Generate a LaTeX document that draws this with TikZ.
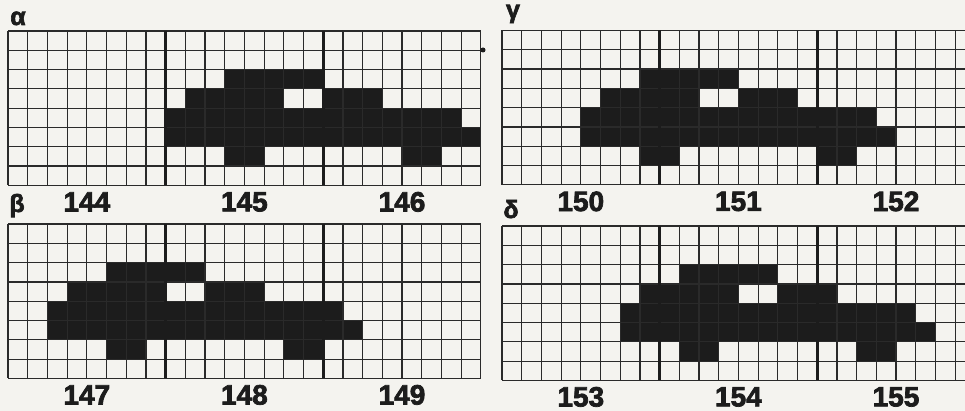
\documentclass[tikz,border=0pt]{standalone}
\usepackage{fontspec}
\setmainfont{Liberation Sans}
\newfontfamily\heavy[FakeBold=2.5]{Liberation Sans Bold}
\definecolor{paper}{HTML}{F4F3EF}
\definecolor{ink}{HTML}{1C1C1C}
\definecolor{rule}{HTML}{2A2A2A}
\tikzset{
    gridline/.style={rule,line width=1.2pt},
    num/.style={inner sep=0pt,font=\heavy\fontsize{28}{28}\selectfont,text=ink},
    tag/.style={inner sep=0pt,anchor=base,font=\heavy\fontsize{25}{25}\selectfont,text=ink},
    band/.pic={
        \pgfmathsetmacro{\w}{19.7}
        \pgfmathsetmacro{\h}{19.3}
        % black cells, one run per row
        \foreach \r/\a/\b in {2/3/7,3/1/5,3/8/10,4/0/14,5/0/15,6/3/4,6/12/13}{
          \fill[ink] ({(\s+\a)*\w},{\r*\h}) rectangle ({(\s+\b+1)*\w},{(\r+1)*\h});
        }
        % grid
        \foreach \i in {0,...,24}{
          \draw[gridline] ({\i*\w},0) -- ({\i*\w},{8*\h});
        }
        \foreach \j in {0,...,8}{
          \draw[gridline] (0,{\j*\h}) -- ({24*\w},{\j*\h});
        }
        % block dividers
        \draw[ink,line width=2.6pt] ({8*\w},0) -- ({8*\w},{8*\h}) ({16*\w},0) -- ({16*\w},{8*\h});
    }
}
\begin{document}
\begin{tikzpicture}[x=1pt,y=-1pt]
    \fill[paper] (0,0) rectangle (965,411);
    \useasboundingbox (0,0) rectangle (965,411);
    \foreach \x/\y/\s/\first in {8/31/8/144,502/30.5/4/150,8/224/2/147,502/226/6/153}{
      \pic at (\x,\y) {band};
      \foreach \k in {0,1,2}{
        \pgfmathtruncatemacro{\n}{\first+\k}
        \node[num] (n\n) at ({\x+(8*\k+4)*19.7},{\y+8*19.3+16.5}) {\n};
      }
    }
    \fill[ink] (483,50) circle (2.5);
    \node[tag] (alpha) at (18,25) {α};
    \node[tag] (beta) at (17,212) {β};
    \node[tag] (gamma) at (513,18) {γ};
    \node[tag] (delta) at (511,218) {δ};
\end{tikzpicture}
\end{document}
